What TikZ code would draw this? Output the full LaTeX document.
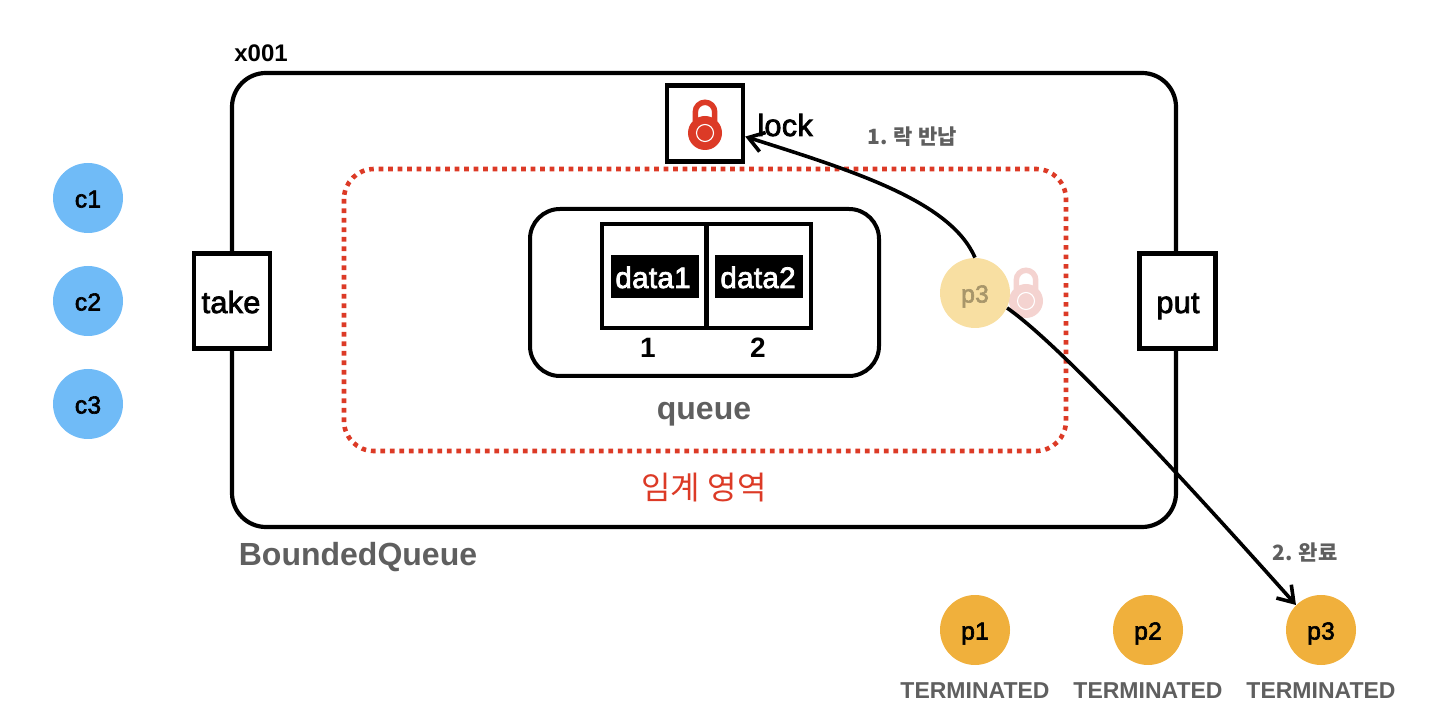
\documentclass[tikz,border=0pt]{standalone}
\usepackage{fontspec}
\setmainfont{Liberation Sans}
\newfontfamily\krfont{Noto Sans CJK KR}
\newfontfamily\medfont[FakeBold=2.5,LetterSpace=1]{Liberation Sans}
\usetikzlibrary{arrows.meta,calc,bending}
\definecolor{gtext}{HTML}{5F5F5F}
\definecolor{redc}{HTML}{DC3A26}
\definecolor{blue1}{HTML}{70BBF7}
\definecolor{orange1}{HTML}{F0B03C}
\definecolor{fadeo}{HTML}{F8DFA2}
\definecolor{fadet}{HTML}{A8966A}
\definecolor{fader}{HTML}{F4D3D0}
\tikzset{
  x=0.5pt,y=-0.5pt,
  lbl/.style={inner sep=0pt,anchor=base,font=\fontsize{14}{16}\selectfont\bfseries},
  medlbl/.style={inner sep=0pt,anchor=base,font=\medfont\fontsize{15.3}{18}\selectfont},
  graylbl/.style={lbl,text=gtext},
  box/.style={draw=black,line width=2.2pt,fill=white,inner sep=0pt,minimum width=38pt,minimum height=47.5pt},
  dot/.style={circle,inner sep=0pt,minimum size=35pt,text height=9.5pt,text depth=0pt,font=\medfont\fontsize{12.3}{14}\selectfont},
  cdot/.style={dot,fill=blue1},
  pdot/.style={dot,fill=orange1},
  cellbox/.style={draw=black,line width=2pt,fill=white,inner sep=0pt,minimum width=52pt,minimum height=52pt},
  databg/.style={fill=black,inner sep=0pt,minimum width=44pt,minimum height=21.5pt},
  datatxt/.style={inner sep=0pt,anchor=base,text=white,font=\medfont\fontsize{14.8}{17}\selectfont},
  term/.style={inner sep=0pt,anchor=base,text=gtext,font=\fontsize{11.5}{13}\selectfont\bfseries},
  flow/.style={draw=black,line width=1.8pt,-{Straight Barb[length=7.5pt,width=10pt,line width=1.8pt]}},
  pics/padlock/.style={code={
    \draw[#1,line width=2.75pt] (-9.7,-12) -- (-9.7,-21) arc[start angle=180,end angle=360,radius=9.7] -- (9.7,-12);
    \fill[#1] (0,0) circle[radius=17];
    \draw[white,line width=0.55pt] (0,0) circle[radius=8.5];
  }}
}
\begin{document}
\begin{tikzpicture}
\useasboundingbox (0,0) rectangle (1440,726);
% frames
\draw[black,line width=2.1pt,rounded corners=17pt] (232,73) rectangle (1176,527);
\draw[redc,line width=2.3pt,dash pattern=on 2.3pt off 2.45pt,rounded corners=15pt] (344,169) rectangle (1066,451);
\draw[black,line width=2pt,rounded corners=15pt] (530,209) rectangle (879,376);
% boxes
\node[box] (take) at (232,301) {};
\node[medlbl] at (231,313) {take};
\node[box] (put) at (1177.5,301) {};
\node[medlbl] at (1178,313) {put};
\node[box,minimum height=38pt] (lockbox) at (705,123.5) {};
\pic at (705,133) {padlock=redc};
\node[medlbl,anchor=base west] (locklbl) at (757,136) {lock};
\node[lbl,anchor=base west] (addr) at (234,62) {\fontsize{12}{13}\selectfont x001};
\node[graylbl,font=\fontsize{16}{18}\selectfont\bfseries] (bq) at (358,566) {BoundedQueue};
% queue
\node[cellbox] (cella) at (654,276) {};
\node[cellbox] (cellb) at (758.5,276) {};
\node[databg] (d1) at (655,276.5) {};
\node[databg] (d2) at (759,276.5) {};
\node[datatxt] at (653,288) {data1};
\node[datatxt] at (758,288) {data2};
\node[lbl] (n1) at (648,358) {1};
\node[lbl] (n2) at (758,358) {2};
\node[graylbl,font=\fontsize{16}{18}\selectfont\bfseries] (ql) at (704,420) {queue};
\node[inner sep=0pt,text=redc,font=\krfont\fontsize{16}{18}\selectfont] (crit) at (704,488) {임계 영역};
% threads
\node[cdot] (c1) at (88,198) {c1};
\node[cdot] (c2) at (88,301) {c2};
\node[cdot] (c3) at (88,404) {c3};
\pic at (1026,301) {padlock=fader};
\node[dot,fill=fadeo,text=fadet] (p3f) at (975,293) {p3};
\node[pdot] (p1) at (975,630) {p1};
\node[pdot] (p2) at (1148,630) {p2};
\node[pdot] (p3) at (1321,630) {p3};
\node[term] (t1) at (975,698) {TERMINATED};
\node[term] (t2) at (1148,698) {TERMINATED};
\node[term] (t3) at (1321,698) {TERMINATED};
% labels
\node[inner sep=0pt,text=gtext,font=\krfont\fontsize{10.5}{12}\selectfont\bfseries] (s1) at (912,137) {1. 락 반납};
\node[inner sep=0pt,text=gtext,font=\krfont\fontsize{10.5}{12}\selectfont\bfseries] (s2) at (1305,553) {2. 완료};
% connectors
\draw[flow] (p3f.north) .. controls (950,200) and (850,170) .. (lockbox.-18);
\draw[flow] (p3f.-25) .. controls (1060,345) and (1180,475) .. (p3.135);
\end{tikzpicture}
\end{document}
